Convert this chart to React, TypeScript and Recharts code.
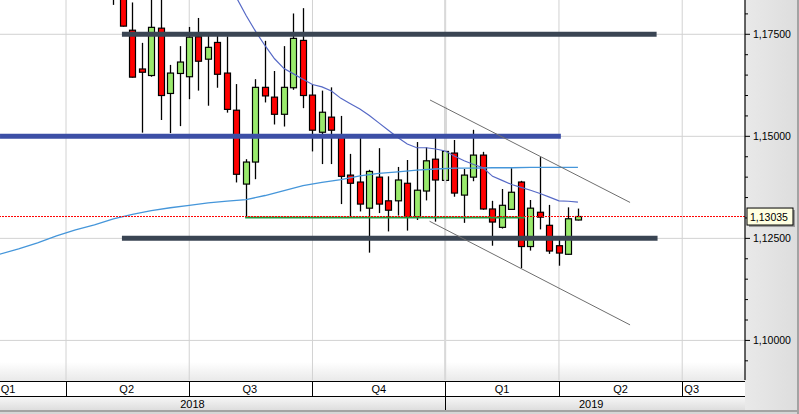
import React from "react"
import { ComposedChart, Bar, Line, XAxis, YAxis, CartesianGrid, ReferenceLine } from "recharts"

document.body.style.margin = "0"

// weekly candles, week 0 = first week of Q2 2018
const candleWeeks = [5, 6, 7, 8, 9, 10, 11, 12, 13, 14, 15, 16, 17, 18, 19, 20, 21, 22, 23, 24, 25, 26, 27, 28, 29, 30, 31, 32, 33, 34, 35, 36, 37, 38, 39, 40, 41, 42, 43, 44, 45, 46, 47, 48, 49, 50, 51, 52, 53, 54]
const opens = [1.1965, 1.1925, 1.176, 1.1665, 1.1649, 1.1765, 1.1605, 1.1654, 1.1646, 1.1744, 1.1689, 1.173, 1.1655, 1.1564, 1.1383, 1.1437, 1.162, 1.1596, 1.1554, 1.1619, 1.1735, 1.1601, 1.151, 1.1547, 1.1498, 1.1405, 1.1388, 1.1324, 1.14, 1.1342, 1.1342, 1.1385, 1.1303, 1.1366, 1.1444, 1.1392, 1.1459, 1.1356, 1.14, 1.1454, 1.1322, 1.1277, 1.1321, 1.1388, 1.123, 1.1314, 1.1282, 1.1232, 1.1211, 1.1295]
const highs = [1.1995, 1.1998, 1.1828, 1.1729, 1.184, 1.1852, 1.1675, 1.1721, 1.1768, 1.179, 1.175, 1.175, 1.1745, 1.1628, 1.1444, 1.164, 1.1734, 1.166, 1.1721, 1.1801, 1.1814, 1.1628, 1.1612, 1.162, 1.155, 1.1457, 1.1497, 1.1418, 1.1471, 1.1402, 1.1425, 1.1442, 1.1486, 1.1473, 1.1497, 1.1573, 1.1491, 1.142, 1.1516, 1.1462, 1.1342, 1.1371, 1.1422, 1.1391, 1.1344, 1.1449, 1.1332, 1.125, 1.1326, 1.1323]
const lows = [1.1822, 1.1769, 1.1644, 1.1509, 1.1646, 1.154, 1.1508, 1.1525, 1.1591, 1.1612, 1.1575, 1.1619, 1.1558, 1.1387, 1.1301, 1.1395, 1.1583, 1.1529, 1.1524, 1.1614, 1.1569, 1.1463, 1.1432, 1.1432, 1.1334, 1.1303, 1.1316, 1.1215, 1.1312, 1.1267, 1.1306, 1.1269, 1.1295, 1.1343, 1.1291, 1.1385, 1.1352, 1.1288, 1.139, 1.132, 1.1232, 1.1274, 1.132, 1.1177, 1.122, 1.1272, 1.1212, 1.1183, 1.121, 1.1294]
const closes = [1.1925, 1.177, 1.1645, 1.1657, 1.1767, 1.16, 1.1655, 1.1682, 1.1743, 1.1684, 1.1718, 1.1652, 1.1566, 1.1407, 1.1437, 1.162, 1.1599, 1.1554, 1.162, 1.174, 1.16, 1.1515, 1.1559, 1.1515, 1.1402, 1.1385, 1.1334, 1.1414, 1.1334, 1.1319, 1.1393, 1.1303, 1.1368, 1.144, 1.1393, 1.1463, 1.1361, 1.1405, 1.1454, 1.1322, 1.129, 1.1331, 1.1363, 1.123, 1.1324, 1.1302, 1.1219, 1.1214, 1.1298, 1.13035]

// moving averages
const fastWeeks = [16, 17, 18, 19, 20, 21, 22, 23, 24, 25, 26, 27, 28, 29, 30, 31, 32, 33, 34, 35, 36, 37, 38, 39, 40, 41, 42, 43, 44, 45, 46, 47, 48, 49, 50, 51, 52, 53, 54]
const fastMA = [1.1905, 1.1884, 1.1839, 1.1796, 1.1757, 1.1722, 1.169, 1.1666, 1.1653, 1.164, 1.1627, 1.1621, 1.1611, 1.1593, 1.158, 1.1567, 1.1551, 1.1533, 1.1515, 1.1497, 1.1481, 1.1472, 1.1472, 1.1469, 1.1464, 1.1451, 1.144, 1.1431, 1.1423, 1.1402, 1.1392, 1.1382, 1.1375, 1.1368, 1.136, 1.1351, 1.1342, 1.1341, 1.1339]
const slowWeeks = [-7, -5, -3, -1, 1, 3, 5, 7, 9, 11, 13, 15, 17, 19, 21, 23, 25, 27, 29, 31, 33, 35, 37, 39, 41, 43, 45, 47, 49, 51, 53, 54]
const slowMA = [1.1211, 1.1224, 1.1239, 1.1256, 1.1271, 1.1283, 1.1298, 1.1309, 1.1318, 1.1325, 1.1331, 1.1337, 1.1341, 1.1345, 1.1355, 1.1367, 1.1379, 1.1387, 1.1394, 1.1403, 1.1409, 1.1413, 1.1417, 1.142, 1.1422, 1.1422, 1.1423, 1.1423, 1.1424, 1.1424, 1.1424, 1.1424]

// drawn levels: [fromWeek, toWeek, price]
const resistance = [5.9, 62.3, 1.175]
const middleLevel = [-6.96, 52.2, 1.15]
const supportLevel = [5.9, 62.4, 1.125]
const greenLevel = [18.9, 48.4, 1.1301]
const channelTop = [38.4, 1.1589, 59.5, 1.1338]
const channelBottom = [38.35, 1.1292, 59.5, 1.1038]
const lastPrice = 1.13035

// axes
const xDomain = [-6.962, 71.624]
const yDomain = [1.0903, 1.1834]
const gridPrices = [1.1, 1.125, 1.15, 1.175]
const priceTicks = [1.095, 1.1, 1.105, 1.11, 1.115, 1.12, 1.125, 1.13, 1.135, 1.14, 1.145, 1.15, 1.155, 1.16, 1.165, 1.17, 1.175, 1.18]
const quarterBounds = [0, 13, 26, 40, 52, 65]
const yearBound = 40
const quarterLabels = ["Q1", "Q2", "Q3", "Q4", "Q1", "Q2", "Q3"]
const quarterLabelAt = [-6.1, 6.4, 19.4, 33.0, 46.0, 58.5, 66.0]
const yearLabels = ["2018", "2019"]
const yearLabelAt = [13.34, 55.4]

const rows: any[] = []
for (let w = -7; w <= 54; w++) rows.push({ w })
const rowOf = (w: number) => rows[w + 7]
candleWeeks.forEach((w, i) => {
  const r = rowOf(w)
  r.open = opens[i]
  r.high = highs[i]
  r.low = lows[i]
  r.close = closes[i]
  r.range = [lows[i], highs[i]]
})
fastWeeks.forEach((w, i) => (rowOf(w).fast = fastMA[i]))
slowWeeks.forEach((w, i) => (rowOf(w).slow = slowMA[i]))

const FONT = "'Liberation Sans', Arial, sans-serif"
const UP = "#9aea6c"
const DOWN = "#ff0000"

function Candle(props: any) {
  const { x, y, width, height, payload } = props
  if (!payload || payload.high == null || !height) return null
  const { open, close, high, low } = payload
  const k = height / (high - low)
  const py = (v: number) => y + (high - v) * k
  const cx = Math.round(x + width / 2) + 0.5
  const top = py(Math.max(open, close))
  const bot = py(Math.min(open, close))
  return (
    <g>
      <line x1={cx} x2={cx} y1={y} y2={y + height} stroke="#000" strokeWidth={1.3} />
      <rect x={cx - 3} y={top} width={6} height={Math.max(bot - top, 1.5)} fill={close >= open ? UP : DOWN} stroke="#000" strokeWidth={1.2} />
    </g>
  )
}

function PriceTick(props: any) {
  const { x, y, payload } = props
  const v = payload.value
  if (v === lastPrice) {
    return (
      <g>
        <rect x={x + 4} y={y - 6.5} width={46} height={17} fill="#9a9a9a" />
        <rect x={x + 2} y={y - 8.5} width={46} height={17} fill="#ffffe1" stroke="#000" strokeWidth={1} />
        <text x={x + 5} y={y + 4} fontSize={10.5} fontFamily={FONT} fill="#000">
          {v.toFixed(5).replace(".", ",")}
        </text>
      </g>
    )
  }
  const major = gridPrices.includes(v)
  return (
    <g>
      <line x1={x} x2={x + (major ? 5 : 3)} y1={y} y2={y} stroke="#000" strokeWidth={1} />
      {major && (
        <text x={x + 8} y={y + 4} fontSize={10.5} fontFamily={FONT} fill="#000">
          {v.toFixed(5).replace(".", ",")}
        </text>
      )}
    </g>
  )
}

function TimeTick(props: any) {
  const { x, y, payload } = props
  const v = payload.value
  const qi = quarterLabelAt.indexOf(v)
  const yi = yearLabelAt.indexOf(v)
  if (quarterBounds.includes(v)) {
    const px = Math.round(x) + 0.5
    return <line x1={px} x2={px} y1={y + 1} y2={y + (v === yearBound ? 30 : 16)} stroke="#000" strokeWidth={1} />
  }
  if (qi >= 0) {
    return (
      <text x={x} y={y + 13} textAnchor="middle" fontSize={11} fontFamily={FONT} fill="#000">
        {quarterLabels[qi]}
      </text>
    )
  }
  if (yi >= 0) {
    return (
      <text x={x} y={y + 28} textAnchor="middle" fontSize={11} fontFamily={FONT} fill="#000">
        {yearLabels[yi]}
      </text>
    )
  }
  return null
}

const timeTicks = [...quarterBounds, ...quarterLabelAt, ...yearLabelAt].sort((a, b) => a - b)
const yTicks = [...priceTicks, lastPrice].sort((a, b) => a - b)

export default function App() {
  return (
    <div style={{ position: "relative", width: 799, height: 414, background: "#d6d6d6", overflow: "hidden" }}>
      <div style={{ position: "absolute", left: 0, top: 0, width: 745, height: 381, background: "linear-gradient(to bottom, #ffffff 0px, #ffffff 362px, #e9e9e9 381px)" }} />
      <div style={{ position: "absolute", left: 0, top: 381, width: 745, height: 16, boxSizing: "border-box", background: "#fff", borderTop: "1px solid #000", borderBottom: "1px solid #000" }} />
      <div style={{ position: "absolute", left: 0, top: 397, width: 745, height: 13, background: "linear-gradient(to bottom, #f6f6f6, #dedede)" }} />
      <div style={{ position: "absolute", left: 0, top: 410, width: 799, height: 2, background: "#a3a3a3" }} />
      <div style={{ position: "absolute", left: 745, top: 0, width: 52, height: 410, background: "linear-gradient(to right, #e9e9e9, #dddddd)" }} />
      <div style={{ position: "absolute", left: 797, top: 0, width: 2, height: 414, background: "#a3a3a3" }} />
      <div style={{ position: "absolute", left: 0, top: 0 }}>
        <ComposedChart width={799} height={414} data={rows} margin={{ top: 0, right: 0, bottom: 0, left: 0 }}>
          <CartesianGrid horizontalValues={gridPrices} verticalValues={quarterBounds} stroke="#d2d2d2" />
          <XAxis dataKey="w" type="number" domain={xDomain} allowDataOverflow ticks={timeTicks} interval={0} height={34} axisLine={false} tickLine={false} tickSize={0} tickMargin={0} tick={(p: any) => <TimeTick {...p} />} />
          <YAxis orientation="right" type="number" domain={yDomain} allowDataOverflow ticks={yTicks} interval={0} width={54} axisLine={{ stroke: "#000", strokeWidth: 1.2 }} tickLine={false} tickSize={0} tickMargin={0} tick={(p: any) => <PriceTick {...p} />} />
          <ReferenceLine x={yearBound} stroke="#d9d9d9" strokeWidth={2} />
          <Bar dataKey="range" barSize={7} isAnimationActive={false} shape={(p: any) => <Candle {...p} />} />
          <Line dataKey="slow" stroke="#4596da" strokeWidth={1.3} dot={false} connectNulls isAnimationActive={false} />
          <Line dataKey="fast" stroke="#5669c6" strokeWidth={1.2} dot={false} connectNulls isAnimationActive={false} />
          <ReferenceLine segment={[{ x: resistance[0], y: resistance[2] }, { x: resistance[1], y: resistance[2] }]} stroke="#3a4553" strokeWidth={5} ifOverflow="hidden" />
          <ReferenceLine segment={[{ x: middleLevel[0], y: middleLevel[2] }, { x: middleLevel[1], y: middleLevel[2] }]} stroke="#3c4fa6" strokeWidth={5} ifOverflow="hidden" />
          <ReferenceLine segment={[{ x: supportLevel[0], y: supportLevel[2] }, { x: supportLevel[1], y: supportLevel[2] }]} stroke="#3a4553" strokeWidth={5} ifOverflow="hidden" />
          <ReferenceLine segment={[{ x: channelTop[0], y: channelTop[1] }, { x: channelTop[2], y: channelTop[3] }]} stroke="#6e6e6e" strokeWidth={1} ifOverflow="hidden" />
          <ReferenceLine segment={[{ x: channelBottom[0], y: channelBottom[1] }, { x: channelBottom[2], y: channelBottom[3] }]} stroke="#6e6e6e" strokeWidth={1} ifOverflow="hidden" />
          <ReferenceLine segment={[{ x: greenLevel[0], y: greenLevel[2] }, { x: greenLevel[1], y: greenLevel[2] }]} stroke="#1f9a3a" strokeWidth={2} ifOverflow="hidden" />
          <ReferenceLine y={lastPrice} stroke="#ff0000" strokeWidth={1} strokeDasharray="2 1" ifOverflow="hidden" />
        </ComposedChart>
      </div>
    </div>
  )
}
